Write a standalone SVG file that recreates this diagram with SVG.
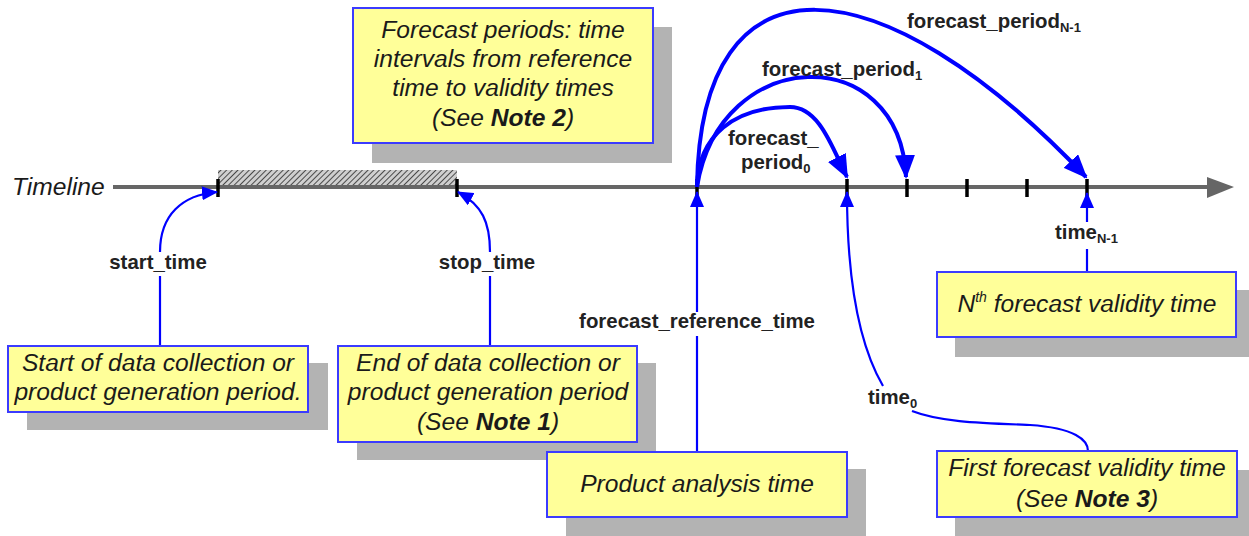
<svg xmlns="http://www.w3.org/2000/svg" width="1249" height="536" viewBox="0 0 1249 536">
<defs>
<style>
.box{fill:#ffff99;stroke:#3b3bff;stroke-width:2}
.shadow{fill:#b3b3b3}
.it{font-family:"Liberation Sans",Arial,sans-serif;font-style:italic;font-size:24.6px;fill:#1a1a1a;text-anchor:middle}
.bd{font-family:"Liberation Sans",Arial,sans-serif;font-weight:bold;font-size:20.4px;fill:#222;text-anchor:middle}
.sub{font-size:13px}
.thin{fill:none;stroke:#0000ff;stroke-width:2.2}
.thick{fill:none;stroke:#0000ff;stroke-width:4}
.tick{stroke:#000;stroke-width:3.5}
</style>
<pattern id="hatch" patternUnits="userSpaceOnUse" width="4" height="4" patternTransform="rotate(45)">
<rect width="4" height="4" fill="#cfcfcf"/>
<line x1="0" y1="0" x2="0" y2="4" stroke="#4a4a4a" stroke-width="2"/>
</pattern>
<marker id="ah" markerUnits="userSpaceOnUse" markerWidth="16" markerHeight="14" viewBox="0 0 16 14" refX="15" refY="7" orient="auto">
<path d="M0,0 L16,7 L0,14 z" fill="#0000ff"/>
</marker>
<marker id="ahk" markerUnits="userSpaceOnUse" markerWidth="24" markerHeight="20" viewBox="0 0 24 20" refX="22" refY="10" orient="auto">
<path d="M0,0 L24,10 L0,20 z" fill="#0000ff"/>
</marker>
</defs>

<g id="timeline">
<rect x="218" y="170" width="239" height="17" fill="url(#hatch)"/>
<line x1="113" y1="187" x2="1210" y2="187" stroke="#666" stroke-width="4"/>
<path d="M1207,177 L1234,187 L1207,198 z" fill="#666"/>
<text x="12" y="195" class="it" style="text-anchor:start">Timeline</text>
<g class="tick">
<line x1="218" y1="179" x2="218" y2="197"/>
<line x1="457" y1="179" x2="457" y2="197"/>
<line x1="697" y1="179" x2="697" y2="197"/>
<line x1="847" y1="179" x2="847" y2="197"/>
<line x1="907" y1="179" x2="907" y2="197"/>
<line x1="967" y1="179" x2="967" y2="197"/>
<line x1="1027" y1="179" x2="1027" y2="197"/>
<line x1="1087" y1="179" x2="1087" y2="197"/>
</g>
</g>

<g id="connectors">
<path class="thin" d="M160,346 V276"/>
<path class="thin" d="M160,252 C160,215 182,195 217,192" marker-end="url(#ah)"/>
<path class="thin" d="M490,346 V276"/>
<path class="thin" d="M490,252 C490,222 482,205 458,192" marker-end="url(#ah)"/>
<path class="thin" d="M697,452 V336"/>
<path class="thin" d="M697,312 V192" marker-end="url(#ah)"/>
<path class="thin" d="M883,386 C862,350 847,290 847,192" marker-end="url(#ah)"/>
<path class="thin" d="M912,411 C940,422 980,423 1030,425 C1075,428 1088,440 1088,451"/>
<path class="thin" d="M1087,272 V249"/>
<path class="thin" d="M1087,222 V193" marker-end="url(#ah)"/>
<path class="thick" d="M697,187 C698,135 735,107 790,107 C820,107 833,150 847,177" marker-end="url(#ahk)"/>
<path class="thick" d="M697,187 C720,44 900,40 906,177" marker-end="url(#ahk)"/>
<path class="thick" d="M697,187 C700,-55 880,-40 1086,177" marker-end="url(#ahk)"/>
</g>

<g id="labels">
<text x="158" y="269" class="bd">start_time</text>
<text x="487" y="269" class="bd">stop_time</text>
<text x="697" y="328" class="bd">forecast_reference_time</text>
<text x="868" y="404" class="bd" style="text-anchor:start">time<tspan class="sub" dy="4">0</tspan></text>
<text x="1055" y="239" class="bd" style="text-anchor:start">time<tspan class="sub" dy="4">N-1</tspan></text>
<text x="907" y="28" class="bd" style="text-anchor:start">forecast_period<tspan class="sub" dy="4">N-1</tspan></text>
<text x="762" y="76" class="bd" style="text-anchor:start">forecast_period<tspan class="sub" dy="4">1</tspan></text>
<text x="728" y="145" class="bd" style="text-anchor:start">forecast_</text>
<text x="741" y="169" class="bd" style="text-anchor:start">period<tspan class="sub" dy="4">0</tspan></text>
</g>

<g id="note-forecast-periods">
<rect class="shadow" x="372" y="27" width="300" height="136"/>
<rect class="box" x="353" y="8" width="300" height="135"/>
<text class="it" x="503" y="38">Forecast periods: time</text>
<text class="it" x="503" y="67">intervals from reference</text>
<text class="it" x="503" y="96">time to validity times</text>
<text class="it" x="503" y="126">(See <tspan font-weight="bold">Note 2</tspan>)</text>
</g>

<g id="start-box">
<rect class="shadow" x="27" y="363" width="301" height="67"/>
<rect class="box" x="8" y="346" width="300" height="66"/>
<text class="it" x="158" y="371">Start of data collection or</text>
<text class="it" x="158" y="400">product generation period.</text>
</g>

<g id="end-box">
<rect class="shadow" x="357" y="363" width="299" height="97"/>
<rect class="box" x="338" y="346" width="299" height="96"/>
<text class="it" x="488" y="371">End of data collection or</text>
<text class="it" x="488" y="400">product generation period</text>
<text class="it" x="488" y="430">(See <tspan font-weight="bold">Note 1</tspan>)</text>
</g>

<g id="analysis-box">
<rect class="shadow" x="566" y="469" width="300" height="67"/>
<rect class="box" x="547" y="452" width="300" height="65"/>
<text class="it" x="697" y="492">Product analysis time</text>
</g>

<g id="first-validity-box">
<rect class="shadow" x="955" y="470" width="294" height="66"/>
<rect class="box" x="937" y="451" width="300" height="66"/>
<text class="it" x="1087" y="476">First forecast validity time</text>
<text class="it" x="1087" y="507">(See <tspan font-weight="bold">Note 3</tspan>)</text>
</g>

<g id="nth-validity-box">
<rect class="shadow" x="955" y="290" width="294" height="67"/>
<rect class="box" x="937" y="272" width="299" height="65"/>
<text class="it" x="1087" y="312">N<tspan font-size="14" dy="-10">th</tspan><tspan dy="10"> forecast validity time</tspan></text>
</g>
</svg>
